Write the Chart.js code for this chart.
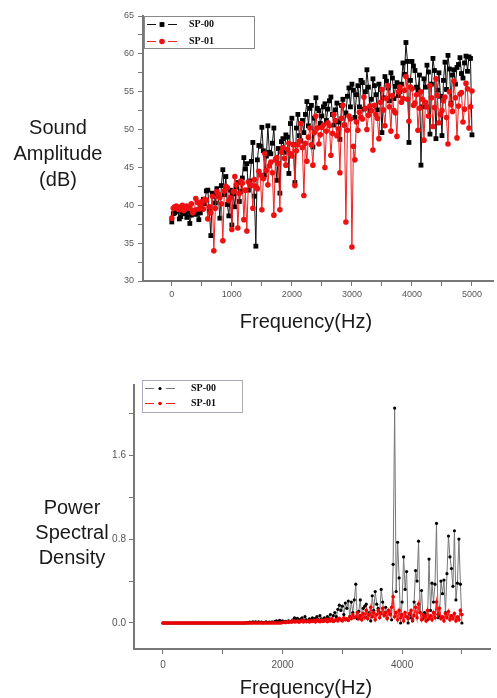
<!DOCTYPE html>
<html>
<head>
<meta charset="utf-8">
<title>Sound amplitude and PSD</title>
<script src="https://cdn.jsdelivr.net/npm/chart.js@4.4.1/dist/chart.umd.min.js"></script>
<style>
  body { margin: 0; background: #fff; }
  canvas { display: block; }
</style>
</head>
<body>
<canvas id="ampChart" width="497" height="345"></canvas>
<canvas id="psdChart" width="497" height="353"></canvas>
<script>
// frequency bins (Hz), shared by both panels
var freq = [
  0,25,50,75,100,125,150,175,200,225,
  250,275,300,325,350,375,400,425,450,475,
  500,525,550,575,600,625,650,675,700,725,
  750,775,800,825,850,875,900,925,950,975,
  1000,1025,1050,1075,1100,1125,1150,1175,1200,1225,
  1250,1275,1300,1325,1350,1375,1400,1425,1450,1475,
  1500,1525,1550,1575,1600,1625,1650,1675,1700,1725,
  1750,1775,1800,1825,1850,1875,1900,1925,1950,1975,
  2000,2025,2050,2075,2100,2125,2150,2175,2200,2225,
  2250,2275,2300,2325,2350,2375,2400,2425,2450,2475,
  2500,2525,2550,2575,2600,2625,2650,2675,2700,2725,
  2750,2775,2800,2825,2850,2875,2900,2925,2950,2975,
  3000,3025,3050,3075,3100,3125,3150,3175,3200,3225,
  3250,3275,3300,3325,3350,3375,3400,3425,3450,3475,
  3500,3525,3550,3575,3600,3625,3650,3675,3700,3725,
  3750,3775,3800,3825,3850,3875,3900,3925,3950,3975,
  4000,4025,4050,4075,4100,4125,4150,4175,4200,4225,
  4250,4275,4300,4325,4350,4375,4400,4425,4450,4475,
  4500,4525,4550,4575,4600,4625,4650,4675,4700,4725,
  4750,4775,4800,4825,4850,4875,4900,4925,4950,4975,
  5000
];

// ---- top panel: sound amplitude (dB) ----
var sp00Amp = [
  37.8,38.9,39.0,39.3,39.2,38.2,38.5,39.1,39.0,38.9,
  38.4,39.2,37.6,38.7,39.3,39.0,38.8,39.4,38.1,39.0,
  39.5,40.8,40.2,41.9,42.0,39.2,36.0,41.6,41.5,40.3,
  42.2,41.2,38.3,42.6,44.7,41.4,43.8,40.1,38.6,42.0,
  37.4,41.5,39.8,42.4,43.0,40.5,41.8,43.6,46.3,44.8,
  45.5,42.0,43.2,45.8,48.3,41.2,34.6,46.0,47.9,47.8,
  50.3,47.2,44.0,46.5,50.5,47.0,46.8,48.2,50.2,46.0,
  43.3,47.5,41.6,48.4,48.8,47.0,49.3,49.0,44.2,50.8,
  51.5,48.0,43.0,50.2,52.0,49.2,48.5,51.2,49.6,52.0,
  53.7,50.5,52.8,53.2,47.7,51.5,54.2,52.8,52.5,50.8,
  51.8,53.0,53.4,51.2,52.7,53.8,54.3,52.0,50.6,52.6,
  53.5,51.0,48.7,53.2,54.0,50.6,52.2,54.4,55.5,53.0,
  56.0,55.2,51.6,54.6,55.8,53.0,56.5,56.2,52.7,55.0,
  57.9,55.6,52.5,54.0,56.7,55.8,54.6,52.6,56.0,55.3,
  49.6,54.2,57.0,56.4,55.5,53.8,57.5,56.8,54.1,55.7,
  56.2,54.5,55.0,56.0,58.8,57.3,61.5,59.0,48.3,56.5,
  59.0,58.4,57.8,55.6,55.2,57.2,45.3,53.0,56.7,55.6,
  58.5,57.6,49.4,56.0,59.4,57.8,48.8,55.2,57.5,54.4,
  49.2,56.5,58.9,55.3,59.8,58.0,53.5,57.2,57.9,56.0,
  58.2,58.6,59.5,57.4,56.8,58.8,59.7,57.7,59.6,59.4,
  49.3
];
var sp01Amp = [
  38.3,39.6,39.8,39.9,39.5,39.4,39.8,40.0,39.3,39.5,
  39.9,39.8,39.6,40.2,39.0,39.3,40.9,40.4,39.5,40.0,
  40.5,39.5,40.8,40.7,38.2,39.8,39.0,41.2,34.0,39.6,
  41.8,41.5,41.0,40.2,35.3,41.9,42.5,42.3,40.6,41.0,
  36.8,41.8,43.8,42.7,37.0,41.6,43.2,42.9,38.1,42.0,
  36.6,43.1,42.8,42.6,39.6,43.4,42.5,42.2,44.5,44.0,
  39.4,43.5,46.8,44.6,42.7,45.2,45.7,44.3,38.7,46.0,
  46.3,45.5,39.4,47.0,47.6,46.2,45.3,47.4,48.2,46.8,
  46.5,48.0,42.6,47.2,48.0,48.5,50.8,47.6,41.3,48.2,
  45.8,49.0,50.2,48.0,45.3,49.6,51.8,50.2,48.1,49.3,
  50.3,50.6,45.0,49.8,50.9,50.5,46.6,49.5,52.0,51.2,
  49.2,50.1,44.3,51.5,53.2,50.6,37.8,49.9,51.8,51.4,
  34.5,47.8,46.0,51.0,49.9,52.3,51.6,51.4,54.3,52.8,
  50.0,51.9,53.1,52.5,47.3,53.2,52.0,51.5,48.8,53.6,
  55.3,52.6,50.5,54.1,55.8,53.0,49.8,54.5,52.5,52.2,
  49.1,55.0,55.6,53.6,54.1,55.2,57.0,54.0,51.1,55.6,
  55.4,53.2,53.5,54.6,49.9,52.8,55.0,54.0,48.6,53.6,
  53.0,51.8,55.8,54.2,50.4,52.9,56.7,54.5,50.9,52.0,
  52.5,53.8,54.3,51.6,48.1,55.0,53.3,52.4,56.4,54.2,
  48.9,53.1,54.7,54.9,51.0,52.7,56.1,55.4,50.2,53.0,
  55.1
];
var xTicksTop = [0,500,1000,1500,2000,2500,3000,3500,4000,4500,5000];
var yTicksTop = [30,32.5,35,37.5,40,42.5,45,47.5,50,52.5,55,57.5,60,62.5,65];

// ---- bottom panel: power spectral density ----
var sp00Psd = [
  0,0,0,0,0,0,0,0,0,0,
  0,0,0,0,0,0,0,0,0,0,
  0,0,0,0,0,0,0,0,0,0,
  0,0,0,0,0,0,0,0,0,0,
  0,0,0,0,0,0,0,0,0,0,
  0,0,0,0,0,0,0.004,0.002,0.008,0.003,
  0.012,0.006,0.01,0.004,0.012,0.005,0.008,0.003,0.006,0.01,
  0.004,0.008,0.005,0.012,0.007,0.015,0.02,0.01,0.025,0.012,
  0.02,0.008,0.015,0.01,0.02,0.012,0.018,0.03,0.05,0.04,
  0.045,0.02,0.035,0.05,0.025,0.06,0.03,0.02,0.04,0.025,
  0.05,0.03,0.045,0.06,0.03,0.07,0.04,0.02,0.05,0.03,
  0.06,0.04,0.08,0.03,0.07,0.1,0.06,0.13,0.17,0.12,
  0.16,0.08,0.19,0.14,0.21,0.06,0.2,0.1,0.22,0.37,
  0.04,0.11,0.22,0.05,0.14,0.16,0.18,0.06,0.1,0.02,
  0.26,0.12,0.3,0.18,0.14,0.1,0.32,0.2,0.08,0.15,
  0.05,0.12,0.09,0.03,0.56,2.05,0.3,0.77,0.43,0.0,
  0.2,0.63,0.32,0.49,0.0,0.08,0.05,0.02,0.2,0.5,
  0.4,0.78,0.1,0.31,0.04,0.1,0.08,0.03,0.61,0.12,
  0.38,0.2,0.37,0.95,0.05,0.07,0.4,0.28,0.41,0.1,
  0.47,0.83,0.63,0.52,0.35,0.88,0.22,0.38,0.8,0.37,
  0.0
];
var sp01Psd = [
  0,0,0,0,0,0,0,0,0,0,
  0,0,0,0,0,0,0,0,0,0,
  0,0,0,0,0,0,0,0,0,0,
  0,0,0,0,0,0,0,0,0,0,
  0,0,0,0,0,0,0,0,0,0,
  0,0,0,0,0,0,0,0,0,0,
  0,0,0,0,0,0,0,0,0,0,
  0,0,0,0,0,0,0,0,0,0,
  0.005,0.01,0.004,0.012,0.006,0.015,0.008,0.02,0.01,0.012,
  0.02,0.008,0.015,0.025,0.01,0.018,0.012,0.02,0.009,0.022,
  0.015,0.025,0.01,0.03,0.018,0.012,0.028,0.015,0.02,0.035,
  0.012,0.03,0.02,0.04,0.015,0.025,0.035,0.02,0.045,0.03,
  0.02,0.05,0.03,0.04,0.025,0.06,0.04,0.08,0.05,0.06,
  0.1,0.04,0.07,0.03,0.09,0.05,0.12,0.04,0.08,0.15,
  0.06,0.1,0.03,0.08,0.12,0.05,0.09,0.14,0.07,0.1,
  0.04,0.12,0.08,0.15,0.25,0.06,0.1,0.03,0.12,0.05,
  0.08,0.02,0.1,0.06,0.04,0.09,0.12,0.03,0.07,0.15,
  0.05,0.18,0.1,0.03,0.08,0.06,0.02,0.12,0.04,0.07,
  0.03,0.1,0.05,0.2,0.08,0.14,0.04,0.06,0.02,0.09,
  0.05,0.11,0.03,0.07,0.04,0.09,0.02,0.06,0.03,0.12,
  0.08
];
var xTicksPsd = [0,1000,2000,3000,4000,5000];
var yTicksPsd = [0,0.4,0.8,1.2,1.6,2.0];

var sansFont = '"Liberation Sans", Arial, sans-serif';
var serifFont = '"Liberation Serif", "Times New Roman", serif';

function pairs(xs, ys) {
  return xs.map(function (x, i) { return { x: x, y: ys[i] }; });
}

// axis titles drawn horizontally + boxed legend, like the original figure
var frame = {
  id: 'frame',
  afterDraw: function (chart, args, o) {
    var ctx = chart.ctx;
    ctx.save();
    ctx.fillStyle = '#1a1a1a';
    ctx.font = '20px ' + sansFont;
    ctx.textAlign = 'center';
    ctx.textBaseline = 'middle';
    o.yTitle.forEach(function (t, i) {
      ctx.fillText(t, o.yTitleX, o.yTitleY + i * o.lineH);
    });
    ctx.fillText(o.xTitle, o.xTitleX, o.xTitleY);

    var b = o.box;
    ctx.fillStyle = '#fff';
    ctx.fillRect(b[0], b[1], b[2], b[3]);
    ctx.strokeStyle = o.boxColor;
    ctx.lineWidth = 1;
    ctx.strokeRect(b[0] + 0.5, b[1] + 0.5, b[2], b[3]);

    ctx.font = 'bold 10px ' + serifFont;
    ctx.textAlign = 'left';
    chart.data.datasets.forEach(function (ds, i) {
      var y = o.rows[i] + 0.5, x = b[0] + 3;
      ctx.strokeStyle = ds.borderColor;
      ctx.lineWidth = 1;
      ctx.beginPath();
      ctx.moveTo(x, y); ctx.lineTo(x + 9, y);
      ctx.moveTo(x + 21, y); ctx.lineTo(x + 30, y);
      ctx.stroke();
      ctx.fillStyle = ds.pointBackgroundColor;
      var r = ds.pointRadius;
      if (ds.pointStyle === 'rect') {
        var s = r * Math.SQRT1_2;
        ctx.fillRect(x + 15 - s, y - s, 2 * s, 2 * s);
      } else {
        ctx.beginPath();
        ctx.arc(x + 15, y, r, 0, Math.PI * 2);
        ctx.fill();
      }
      ctx.fillStyle = '#111';
      ctx.fillText(ds.label, o.textX, y);
    });
    ctx.restore();
  }
};

function axis(min, max, tickList, labelFn, fontSize, pad, fit) {
  return {
    type: 'linear',
    min: min,
    max: max,
    afterBuildTicks: function (s) {
      s.ticks = tickList.map(function (v) { return { value: v }; });
    },
    afterFit: fit,
    ticks: {
      autoSkip: false,
      maxRotation: 0,
      padding: pad,
      color: '#555',
      font: { size: fontSize, family: sansFont },
      callback: labelFn
    },
    grid: { drawOnChartArea: false, drawTicks: true, tickLength: 5, color: '#777', tickWidth: 1 },
    border: { display: true, color: '#777', width: 2 }
  };
}

new Chart(document.getElementById('ampChart'), {
  type: 'line',
  data: {
    datasets: [{
      label: 'SP-00',
      data: pairs(freq, sp00Amp),
      borderColor: '#111',
      borderWidth: 1,
      pointStyle: 'rect',
      pointRadius: 3.4,
      pointBackgroundColor: '#000',
      pointBorderColor: '#000',
      pointBorderWidth: 0,
      order: 1
    }, {
      label: 'SP-01',
      data: pairs(freq, sp01Amp),
      borderColor: '#ee2222',
      borderWidth: 1,
      pointStyle: 'circle',
      pointRadius: 2.8,
      pointBackgroundColor: '#ee1111',
      pointBorderColor: '#ee1111',
      pointBorderWidth: 0,
      order: 0
    }]
  },
  options: {
    responsive: false,
    animation: false,
    devicePixelRatio: 1,
    layout: { padding: { top: 16, right: 4, left: 0, bottom: 0 } },
    scales: {
      x: axis(-480, 5350, xTicksTop, function (v) { return v % 1000 === 0 ? String(v) : ''; }, 9, 3,
        function (s) { s.height = 64; }),
      y: axis(30, 65, yTicksTop, function (v) { return v % 5 === 0 ? String(v) : ''; }, 9, 4,
        function (s) { s.width = 143; })
    },
    plugins: {
      legend: { display: false },
      tooltip: { enabled: false },
      frame: {
        yTitle: ['Sound', 'Amplitude', '(dB)'], yTitleX: 58, yTitleY: 128, lineH: 26,
        xTitle: 'Frequency(Hz)', xTitleX: 306, xTitleY: 322,
        box: [144, 16, 110, 32], boxColor: '#888', rows: [24, 41], textX: 189
      }
    }
  },
  plugins: [frame]
});

new Chart(document.getElementById('psdChart'), {
  type: 'line',
  data: {
    datasets: [{
      label: 'SP-00',
      data: pairs(freq, sp00Psd),
      borderColor: '#777',
      borderWidth: 1,
      pointStyle: 'circle',
      pointRadius: 1.6,
      pointBackgroundColor: '#000',
      pointBorderColor: '#000',
      pointBorderWidth: 0,
      order: 1
    }, {
      label: 'SP-01',
      data: pairs(freq, sp01Psd),
      borderColor: '#ff2020',
      borderWidth: 1.5,
      pointStyle: 'circle',
      pointRadius: 1.8,
      pointBackgroundColor: '#e00',
      pointBorderColor: '#e00',
      pointBorderWidth: 0,
      order: 0
    }]
  },
  options: {
    responsive: false,
    animation: false,
    devicePixelRatio: 1,
    layout: { padding: { top: 40, right: 7, left: 0, bottom: 0 } },
    scales: {
      x: axis(-485, 5470, xTicksPsd, function (v) { return v % 2000 === 0 ? String(v) : ''; }, 10, 5,
        function (s) { s.height = 49; }),
      y: axis(-0.248, 2.27, yTicksPsd, function (v) {
        return Math.round(v * 10) % 8 === 0 ? v.toFixed(1) : '';
      }, 10, 3, function (s) { s.width = 134; })
    },
    plugins: {
      legend: { display: false },
      tooltip: { enabled: false },
      frame: {
        yTitle: ['Power', 'Spectral', 'Density'], yTitleX: 72, yTitleY: 163, lineH: 25,
        xTitle: 'Frequency(Hz)', xTitleX: 306, xTitleY: 343,
        box: [142, 35, 100, 32], boxColor: '#aab', rows: [43, 58], textX: 191
      }
    }
  },
  plugins: [frame]
});
</script>
</body>
</html>
